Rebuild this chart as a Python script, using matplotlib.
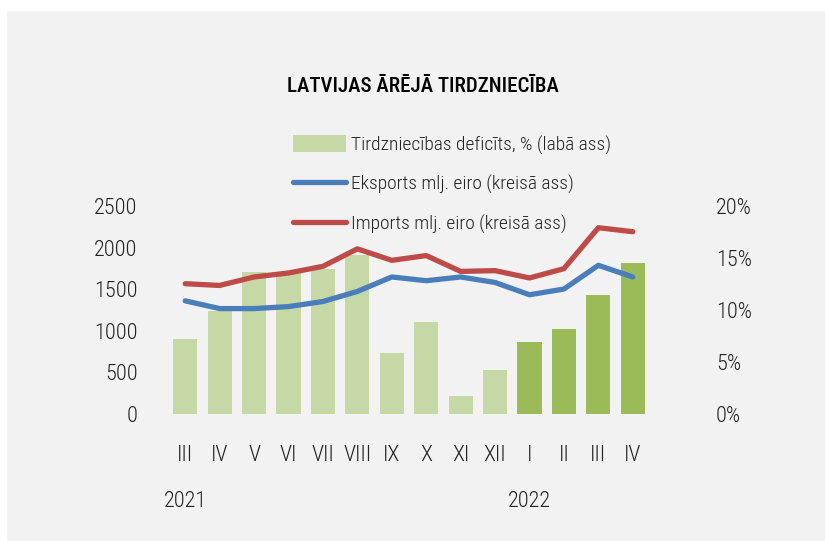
import matplotlib
matplotlib.use("Agg")
import matplotlib.pyplot as plt
from matplotlib import font_manager
from matplotlib.patches import Patch, Rectangle
from matplotlib.lines import Line2D
import numpy as np

months = ["III", "IV", "V", "VI", "VII", "VIII", "IX", "X", "XI", "XII", "I", "II", "III", "IV"]
years = ["2021", "2022"]
year_pos = [0, 10]

# trade deficit, % (right axis)
deficit = [7.2, 9.9, 13.7, 13.6, 13.9, 15.3, 5.9, 8.8, 1.7, 4.2, 6.9, 8.2, 11.4, 14.5]
# million euro (left axis)
exports = [1360, 1267, 1267, 1291, 1352, 1473, 1647, 1602, 1647, 1581, 1433, 1502, 1787, 1647]
imports = [1566, 1545, 1647, 1695, 1775, 1985, 1847, 1904, 1714, 1723, 1635, 1747, 2239, 2191]

names = set(f.name for f in font_manager.fontManager.ttflist)
cands = ["Roboto Condensed", "Liberation Sans Narrow", "DejaVu Sans Condensed", "DejaVu Sans"]
font = [c for c in cands if c in names][0]
plt.rcParams["font.family"] = [font, "DejaVu Sans"]
txt = "#222222"

fig = plt.figure(figsize=(8.25, 5.41), dpi=100)
fig.patch.set_facecolor("white")
fig.add_artist(Rectangle((7 / 825, 0), 1, 1 - 11 / 541, transform=fig.transFigure,
                         facecolor="#f2f2f2", edgecolor="none", zorder=0))

ax = fig.add_axes([168 / 825, 1 - 414 / 541, (650 - 168) / 825, (414 - 206) / 541])
ax2 = ax.twinx()
ax.set_zorder(2)
ax.patch.set_visible(False)

x = np.arange(len(months))
light = "#c6d8a6"
dark = "#9bbb59"
colors = [light] * 10 + [dark] * 4
ax2.bar(x, deficit, width=0.7, color=colors)
ax2.set_ylim(0, 20)
ax2.set_yticks(range(0, 21, 5))
ax2.set_yticklabels([f"{v}%" for v in range(0, 21, 5)])

ax.plot(x, exports, color="#4a7ebb", lw=3.8, solid_capstyle="round")
ax.plot(x, imports, color="#be4b48", lw=3.8, solid_capstyle="round")
ax.set_ylim(0, 2500)
ax.set_yticks(range(0, 2501, 500))
ax.set_xlim(-0.5, len(months) - 0.5)
ax.set_xticks(x)
ax.set_xticklabels(months)

for a in (ax, ax2):
    for s in a.spines.values():
        s.set_visible(False)
    a.tick_params(length=0, labelsize=16, colors=txt)
    for t in a.get_xticklabels() + a.get_yticklabels():
        t.set_fontweight("light")
ax.tick_params(axis="y", pad=22)
ax2.tick_params(axis="y", pad=47.5)
ax.tick_params(axis="x", pad=22.5)

for p, yr in zip(year_pos, years):
    ax.text(p, -0.42, yr, transform=ax.get_xaxis_transform(), ha="center", va="center",
            fontsize=16, fontweight="light", color=txt)

fig.text(423 / 825, 1 - 87 / 541, "LATVIJAS ĀRĒJĀ TIRDZNIECĪBA", ha="center", va="center",
         fontsize=15, fontweight="medium", color="black")

handles = [Patch(facecolor=light, edgecolor="none"),
           Line2D([], [], color="#4a7ebb", lw=3.8, solid_capstyle="round"),
           Line2D([], [], color="#be4b48", lw=3.8, solid_capstyle="round")]
labels = ["Tirdzniecības deficīts, % (labā ass)", "Eksports mlj. eiro (kreisā ass)",
          "Imports mlj. eiro (kreisā ass)"]
leg = fig.legend(handles, labels, loc="upper left", bbox_to_anchor=(293 / 825, 1 - 135 / 541),
                 frameon=False, fontsize=14, handlelength=2.7, handleheight=1.0,
                 handletextpad=0.3, labelspacing=1.02, borderpad=0, borderaxespad=0,
                 labelcolor=txt)
for t in leg.get_texts():
    t.set_fontweight("light")

fig.savefig("out.png", dpi=100, facecolor=fig.get_facecolor())
